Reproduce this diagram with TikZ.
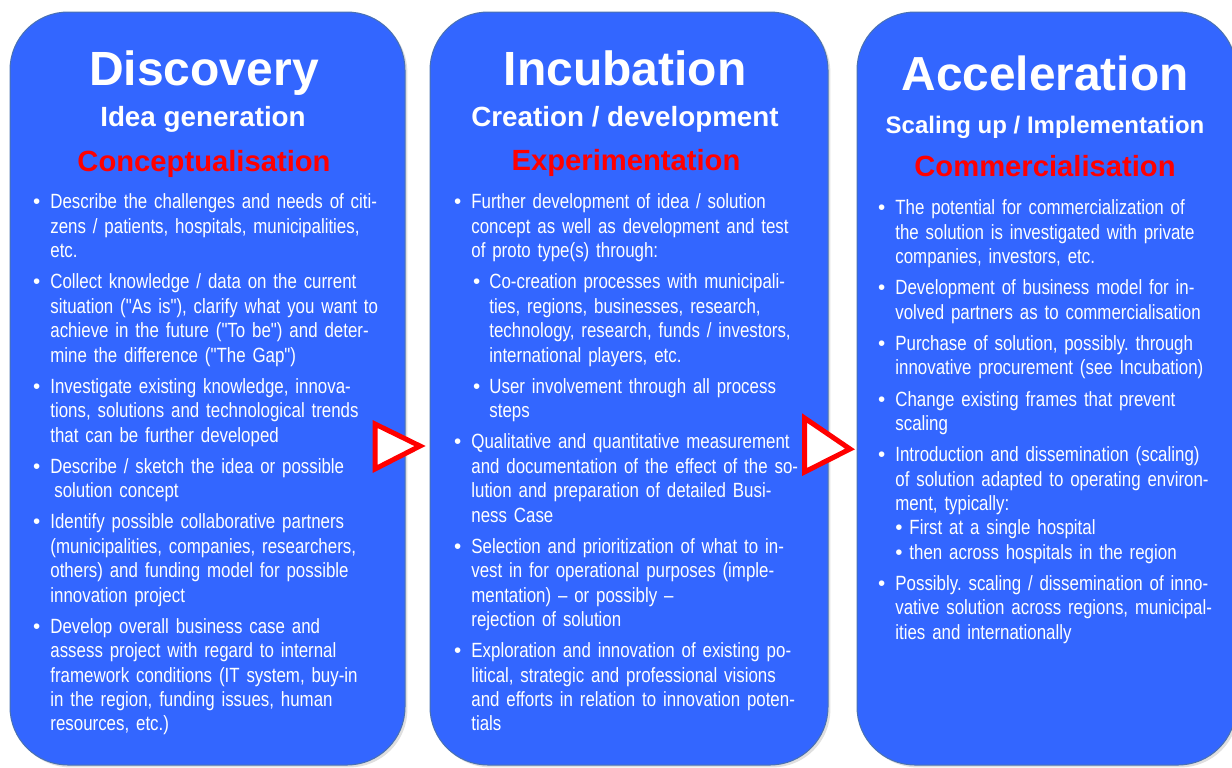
\documentclass[tikz,border=0pt]{standalone}
\usepackage{fontspec}
\setmainfont{Liberation Sans}
\newfontfamily\narrowsans[FakeStretch=0.82]{Liberation Sans}
\usetikzlibrary{shadows}
\definecolor{phase}{HTML}{3366FF}
\definecolor{phaseline}{HTML}{4A72B0}
\definecolor{stagered}{HTML}{FF0000}
\frenchspacing

% bullet lists inside the phase boxes
\newenvironment{steplist}{\begin{list}{\rmfamily\textbullet}{%
  \setlength{\leftmargin}{10pt}\setlength{\labelwidth}{4pt}%
  \setlength{\labelsep}{5pt}\setlength{\itemsep}{3.4pt}%
  \setlength{\topsep}{0pt}\setlength{\partopsep}{0pt}%
  \setlength{\parsep}{0pt}\setlength{\itemindent}{0pt}}}{\end{list}}
\newenvironment{substeplist}{\begin{list}{\rmfamily\textbullet}{%
  \setlength{\leftmargin}{9pt}\setlength{\labelwidth}{4pt}%
  \setlength{\labelsep}{4.5pt}\setlength{\itemsep}{3.4pt}%
  \setlength{\topsep}{3.4pt}\setlength{\partopsep}{0pt}%
  \setlength{\parsep}{0pt}\setlength{\itemindent}{0pt}}}{\end{list}}

\begin{document}
\begin{tikzpicture}[x=0.5pt,y=-0.5pt,
 phasebox/.style={draw=phaseline,line width=.5pt,fill=phase,rounded corners=29pt,
   drop shadow={opacity=.25,shadow xshift=1.2pt,shadow yshift=-1.2pt}},
 title/.style={anchor=base,text=white,font=\bfseries\fontsize{24}{28}\selectfont},
 subtitle/.style={anchor=base,text=white,font=\bfseries\fontsize{13.9}{16}\selectfont},
 stage/.style={anchor=base,text=stagered,font=\bfseries\fontsize{14.6}{17}\selectfont},
 body/.style={anchor=north west,inner sep=0pt,text=white,text width=200pt,align=left,
   font=\narrowsans\fontsize{10.3}{12.2}\selectfont},
 next/.style={draw=stagered,fill=white,line width=2.5pt,line join=miter}]
 \useasboundingbox (0,0) rectangle (1232,767);

 % the three phases
 \path[phasebox] (10,12) rectangle (405,765);
 \path[phasebox] (430,12) rectangle (828,765);
 \path[phasebox] (857,12) rectangle (1236,765);

 \node[title] (disc) at (204,85) {Discovery};
 \node[subtitle] (discsub) at (203,126) {Idea generation};
 \node[stage] (discstage) at (204,171) {Conceptualisation};

 \node[title] (incu) at (625,85) {Incubation};
 \node[subtitle] (incusub) at (625,126) {Creation / development};
 \node[stage] (incustage) at (626,170) {Experimentation};

 \node[title,font=\bfseries\fontsize{23.9}{28}\selectfont] (acc) at (1045,90) {Acceleration};
 \node[subtitle,font=\bfseries\fontsize{12}{15}\selectfont] (accsub) at (1045,133) {Scaling up / Implementation};
 \node[stage] (accstage) at (1045,176) {Commercialisation};

 \node[body] (disclist) at (30,184) {\begin{steplist}
  \item Describe the challenges and needs of citi-\\zens / patients, hospitals, municipalities,\\etc.
  \item Collect knowledge / data on the current\\situation ("As is"), clarify what you want to\\achieve in the future ("To be") and deter-\\mine the difference ("The Gap")
  \item Investigate existing knowledge, innova-\\tions, solutions and technological trends\\that can be further developed
  \item Describe / sketch the idea or possible\\\hspace*{2pt}solution concept
  \item Identify possible collaborative partners\\(municipalities, companies, researchers,\\others) and funding model for possible\\innovation project
  \item Develop overall business case and\\assess project with regard to internal\\framework conditions (IT system, buy-in\\in the region, funding issues, human\\resources, etc.)
 \end{steplist}};

 \node[body] (inculist) at (451,184) {\begin{steplist}
  \item Further development of idea / solution\\concept as well as development and test\\of proto type(s) through:
   \begin{substeplist}
    \item Co-creation processes with municipali-\\ties, regions, businesses, research,\\technology, research, funds / investors,\\international players, etc.
    \item User involvement through all process\\steps
   \end{substeplist}
  \item Qualitative and quantitative measurement\\and documentation of the effect of the so-\\lution and preparation of detailed Busi-\\ness Case
  \item Selection and prioritization of what to in-\\vest in for operational purposes (imple-\\mentation) – or possibly –\\rejection of solution
  \item Exploration and innovation of existing po-\\litical, strategic and professional visions\\and efforts in relation to innovation poten-\\tials
 \end{steplist}};

 \node[body] (acclist) at (875,190) {\begin{steplist}
  \item The potential for commercialization of\\the solution is investigated with private\\companies, investors, etc.
  \item Development of business model for in-\\volved partners as to commercialisation
  \item Purchase of solution, possibly. through\\innovative procurement (see Incubation)
  \item Change existing frames that prevent\\scaling
  \item Introduction and dissemination (scaling)\\of solution adapted to operating environ-\\ment, typically:\\{\rmfamily\textbullet} First at a single hospital\\{\rmfamily\textbullet} then across hospitals in the region
  \item Possibly. scaling / dissemination of inno-\\vative solution across regions, municipal-\\ities and internationally
 \end{steplist}};

 % markers between the phases
 \draw[next] (375,424) -- (420,446) -- (375,469) -- cycle;
 \draw[next] (804.5,418) -- (850,449) -- (804.5,472) -- cycle;
\end{tikzpicture}
\end{document}
